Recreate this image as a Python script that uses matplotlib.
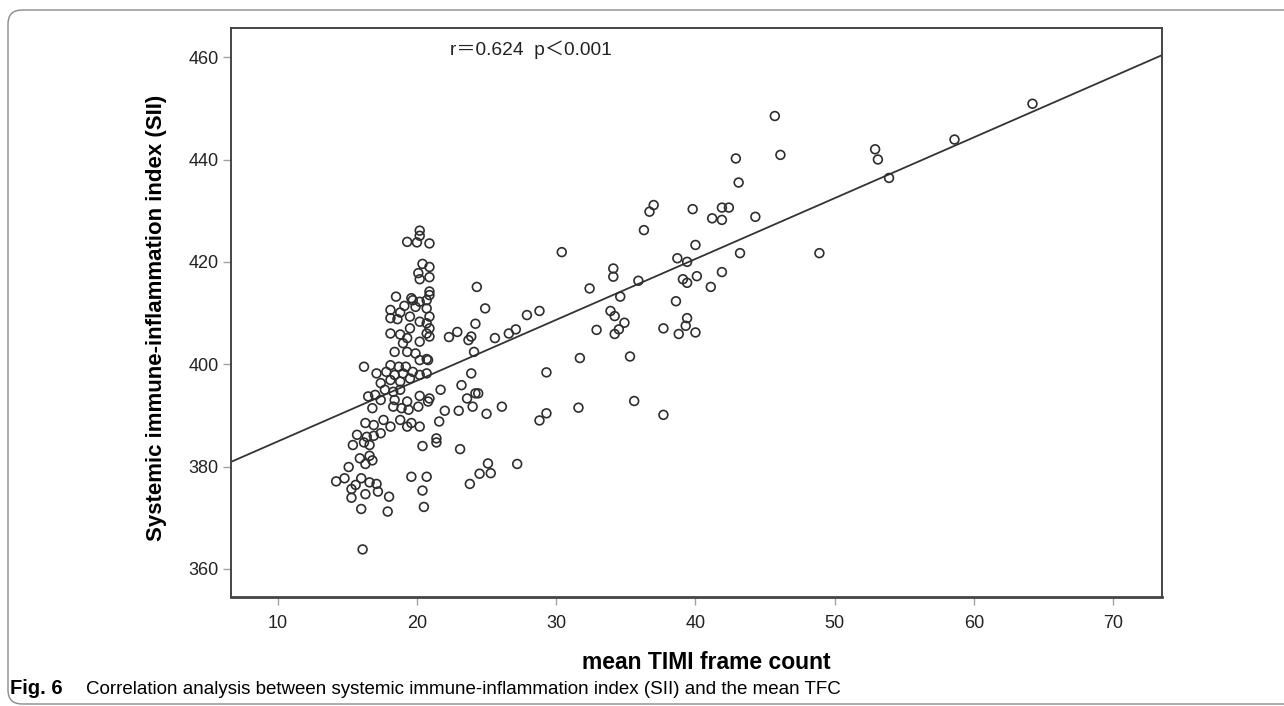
import numpy as np
import matplotlib
matplotlib.use("Agg")
import matplotlib.pyplot as plt
from matplotlib.patches import FancyBboxPatch
from matplotlib.transforms import IdentityTransform

# mean TIMI frame count (x) and SII (y)
tfc = [
    20.2, 20.2, 19.3, 20.0, 20.9, 20.4, 20.9, 20.1, 20.2, 20.9,
    24.3, 20.9, 20.9, 18.5, 19.6, 19.7, 20.2, 20.7, 19.1, 19.9,
    20.7, 18.1, 18.8, 19.5, 18.1, 18.6, 20.2, 20.9, 20.7, 20.9,
    19.5, 18.1, 18.8, 19.3, 19.0, 20.2, 20.7, 20.9, 22.3, 22.9,
    23.7, 23.9, 24.2, 18.4, 19.3, 19.9, 20.2, 20.7, 20.8, 24.1,
    16.2, 17.1, 18.1, 18.7, 19.2, 17.8, 18.4, 19.0, 19.7, 20.2,
    20.7, 17.4, 18.1, 18.8, 19.5, 17.7, 18.3, 18.8, 16.5, 17.0,
    17.4, 18.4, 19.3, 20.2, 20.9, 20.8, 21.7, 23.9, 23.2, 24.2,
    23.6, 16.8, 18.3, 18.9, 19.4, 20.1, 22.0, 23.0, 24.0, 16.3,
    16.9, 17.6, 18.1, 18.8, 19.3, 19.6, 20.2, 21.6, 15.7, 16.4,
    21.4, 16.9, 17.4, 15.4, 16.2, 16.6, 15.9, 16.6, 16.8, 16.3,
    15.1, 14.8, 14.2, 15.6, 16.0, 16.6, 17.1, 15.3, 16.3, 17.2,
    15.3, 18.0, 16.0, 17.9, 16.1, 20.4, 21.4, 23.1, 19.6, 20.7,
    20.4, 20.5, 23.8, 24.5, 30.4, 24.9, 25.6, 26.6, 27.1, 27.9,
    28.8, 24.4, 25.0, 26.1, 25.1, 25.3, 27.2, 29.3, 28.8, 29.3,
    31.7, 31.6, 32.4, 32.9, 34.1, 34.1, 34.6, 33.9, 34.2, 34.5,
    34.9, 34.2, 35.9, 35.3, 35.6, 37.7, 38.7, 39.4, 40.0, 39.1,
    39.4, 40.1, 41.9, 41.1, 38.6, 39.4, 39.3, 37.7, 38.8, 40.0,
    43.2, 45.7, 42.9, 46.1, 43.1, 41.9, 42.4, 41.9, 44.3, 48.9,
    52.9, 53.1, 53.9, 58.6, 64.2, 37.0, 36.7, 36.3, 39.8, 41.2,
]
sii = [
    426.1, 425.1, 423.9, 423.8, 423.6, 419.6, 419.0, 417.8, 416.6, 417.0,
    415.1, 414.2, 413.5, 413.2, 412.9, 412.5, 412.2, 412.5, 411.4, 411.2,
    410.9, 410.6, 410.1, 409.3, 409.0, 408.8, 408.3, 409.3, 408.0, 407.0,
    407.0, 406.0, 405.8, 405.1, 404.1, 404.4, 406.0, 405.4, 405.3, 406.3,
    404.7, 405.4, 407.9, 402.4, 402.4, 402.1, 400.8, 401.0, 400.8, 402.4,
    399.5, 398.2, 399.8, 399.5, 399.5, 398.5, 397.9, 398.2, 398.5, 397.9,
    398.2, 396.3, 396.9, 396.6, 397.2, 395.0, 394.6, 395.0, 393.7, 394.0,
    393.0, 393.0, 392.7, 393.8, 393.3, 392.7, 395.0, 398.2, 395.9, 394.3,
    393.3, 391.4, 391.7, 391.4, 391.1, 391.7, 390.9, 390.9, 391.7, 388.5,
    388.1, 389.1, 387.8, 389.1, 387.8, 388.5, 387.8, 388.8, 386.2, 385.8,
    385.5, 386.0, 386.5, 384.2, 384.7, 384.2, 381.6, 382.1, 381.2, 380.5,
    379.9, 377.7, 377.1, 376.4, 377.7, 376.9, 376.6, 375.6, 374.6, 375.1,
    373.9, 374.1, 371.7, 371.2, 363.8, 384.0, 384.7, 383.4, 378.0, 378.0,
    375.3, 372.1, 376.6, 378.6, 421.9, 410.9, 405.1, 406.0, 406.8, 409.6,
    410.4, 394.3, 390.3, 391.7, 380.6, 378.7, 380.5, 398.4, 389.0, 390.4,
    401.2, 391.5, 414.8, 406.7, 418.7, 417.1, 413.2, 410.4, 409.4, 406.8,
    408.1, 405.9, 416.3, 401.5, 392.8, 390.1, 420.7, 420.0, 423.3, 416.6,
    415.9, 417.2, 418.0, 415.1, 412.3, 409.0, 407.5, 407.0, 405.9, 406.2,
    421.7, 448.5, 440.2, 440.9, 435.5, 430.6, 430.6, 428.2, 428.8, 421.7,
    442.0, 440.0, 436.4, 443.9, 450.9, 431.1, 429.8, 426.2, 430.3, 428.5,
]

# fitted line as drawn in the reference
fit_slope = 1.189
fit_intercept = 373.0

x_ticks = [10, 20, 30, 40, 50, 60, 70]
y_ticks = [360, 380, 400, 420, 440, 460]

W, H = 1284, 706
fig = plt.figure(figsize=(W / 100, H / 100), dpi=100)
fig.patch.set_facecolor("white")

# rounded frame around the figure panel
frame = FancyBboxPatch((8, 2), 1400, 694, boxstyle="round,pad=0,rounding_size=14",
                       transform=IdentityTransform(), facecolor="none",
                       edgecolor="#8a8a8a", linewidth=1.0, zorder=0)
fig.patches.append(frame)

ax = fig.add_axes([231 / W, 1 - 597 / H, (1162 - 231) / W, (597 - 28) / H])
ax.set_xlim(6.65, 73.5)
ax.set_ylim(354.5, 465.7)

ax.scatter(tfc, sii, s=40, facecolors="none", edgecolors="#2e2e2e",
           linewidths=1.2, zorder=3)

xl = np.array(ax.get_xlim())
ax.plot(xl, fit_intercept + fit_slope * xl, color="#333333", lw=1.3, zorder=2)

ax.set_xticks(x_ticks)
ax.set_yticks(y_ticks)
ax.tick_params(direction="out", length=6, width=1.0, color="#a0a0a0",
               labelsize=13, labelcolor="#222222")
ax.tick_params(axis="x", pad=7)
ax.tick_params(axis="y", pad=3)
for lab in ax.get_xticklabels() + ax.get_yticklabels():
    lab.set_family("Liberation Sans")

for sp in ax.spines.values():
    sp.set_color("#444444")
    sp.set_linewidth(1.4)
ax.spines["bottom"].set_linewidth(2.0)

ax.set_xlabel("mean TIMI frame count", fontsize=16.5, fontweight="bold",
              family="Liberation Sans")
ax.set_ylabel("Systemic immune-inflammation index (SII)", fontsize=16,
              fontweight="bold", family="Liberation Sans")
ax.xaxis.set_label_coords(0.511, -0.095)
ax.yaxis.set_label_coords(-0.069, 0.49)

ax.text(22.4, 461.4, "r\uff1d0.624  p\uff1c0.001", fontsize=13.8, ha="left",
        va="center", color="#222222",
        family=["Liberation Sans", "Noto Sans CJK SC"])

fig.text(10 / W, 1 - 694 / H, "Fig. 6", fontsize=14.5, fontweight="bold",
         family="Liberation Sans", va="baseline", ha="left")
fig.text(86 / W, 1 - 694 / H,
         "Correlation analysis between systemic immune-inflammation index (SII) and the mean TFC",
         fontsize=13.5, family="Liberation Sans", va="baseline", ha="left")

fig.savefig("out.png", dpi=100)
